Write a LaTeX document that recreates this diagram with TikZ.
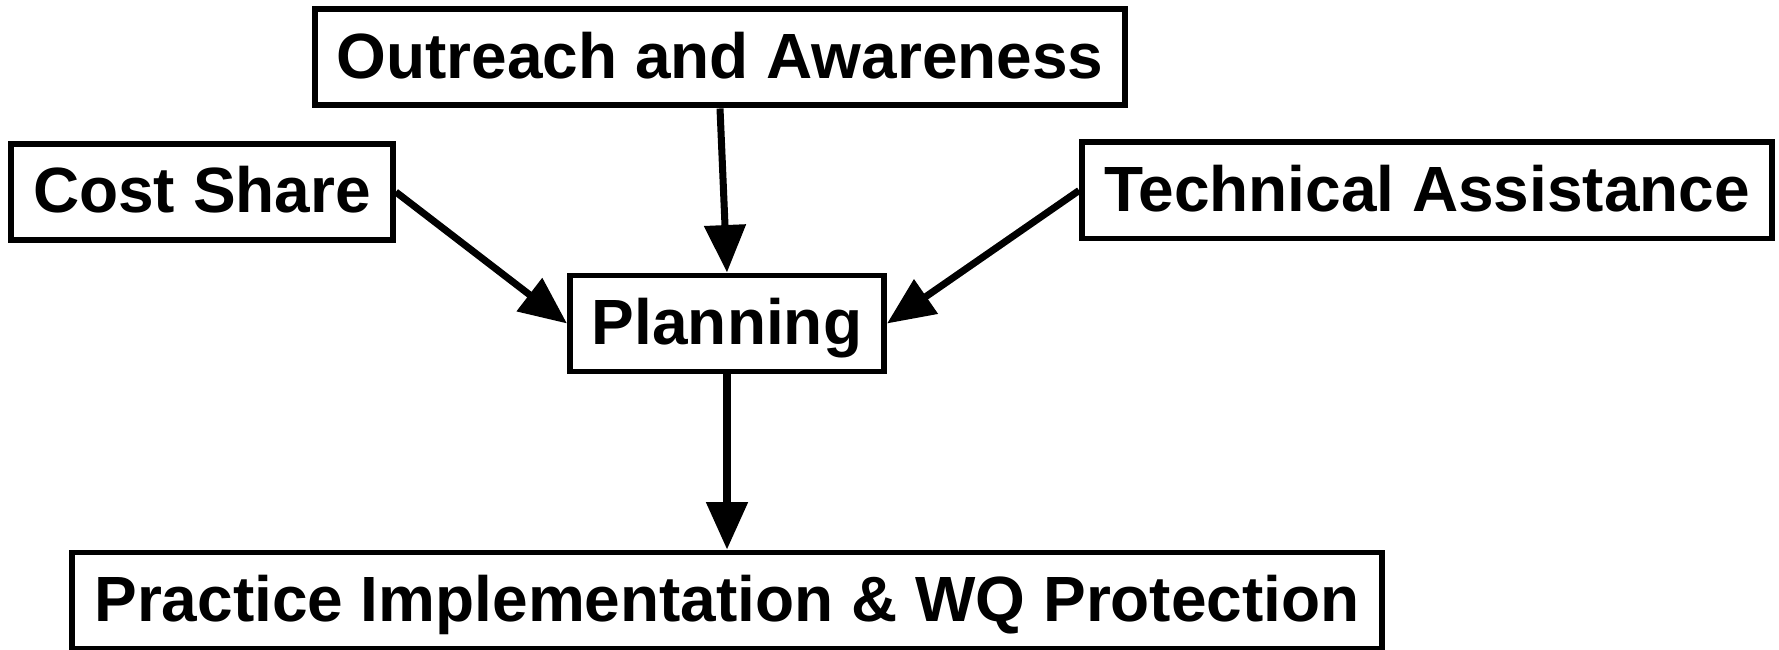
\documentclass[tikz,border=0pt]{standalone}
\usepackage{fontspec}
\setmainfont{Liberation Sans}
\usetikzlibrary{arrows.meta}

\begin{document}
\begin{tikzpicture}[stagenode/.style={rectangle,
					draw=black,
					line width=1.7pt,
					inner xsep=0.22cm,
					text height=13.2pt,
					text depth=1.5pt,
					minimum height=0.96cm,
					font=\fontsize{18.2}{21.8}\selectfont\bfseries},
					flowarrow/.style={line width=2pt,
					-{Triangle[length=13.5pt,width=11.5pt]}}
					]

% fixed page size
\useasboundingbox (0,0) rectangle (17.79,6.5);

%input nodes
\node[stagenode] (outreach) at (7.20,5.925) {Outreach and Awareness};
\node[stagenode] (cost) at (2.02,4.58) {Cost Share};
\node[stagenode] (tech) at (14.27,4.595) {Technical Assistance};

%planning and result
\node[stagenode] (plan) at (7.27,3.265) {Planning};
\node[stagenode] (practice) at (7.27,0.495) {Practice Implementation \& WQ Protection};

%paths into planning
\draw[flowarrow] (outreach.south) -- (plan.north);
\draw[flowarrow] (cost.east) -- (plan.west);
\draw[flowarrow] (tech.west) -- (plan.east);

%path to practice
\draw[flowarrow] (plan.south) -- (practice.north);
\end{tikzpicture}
\end{document}
